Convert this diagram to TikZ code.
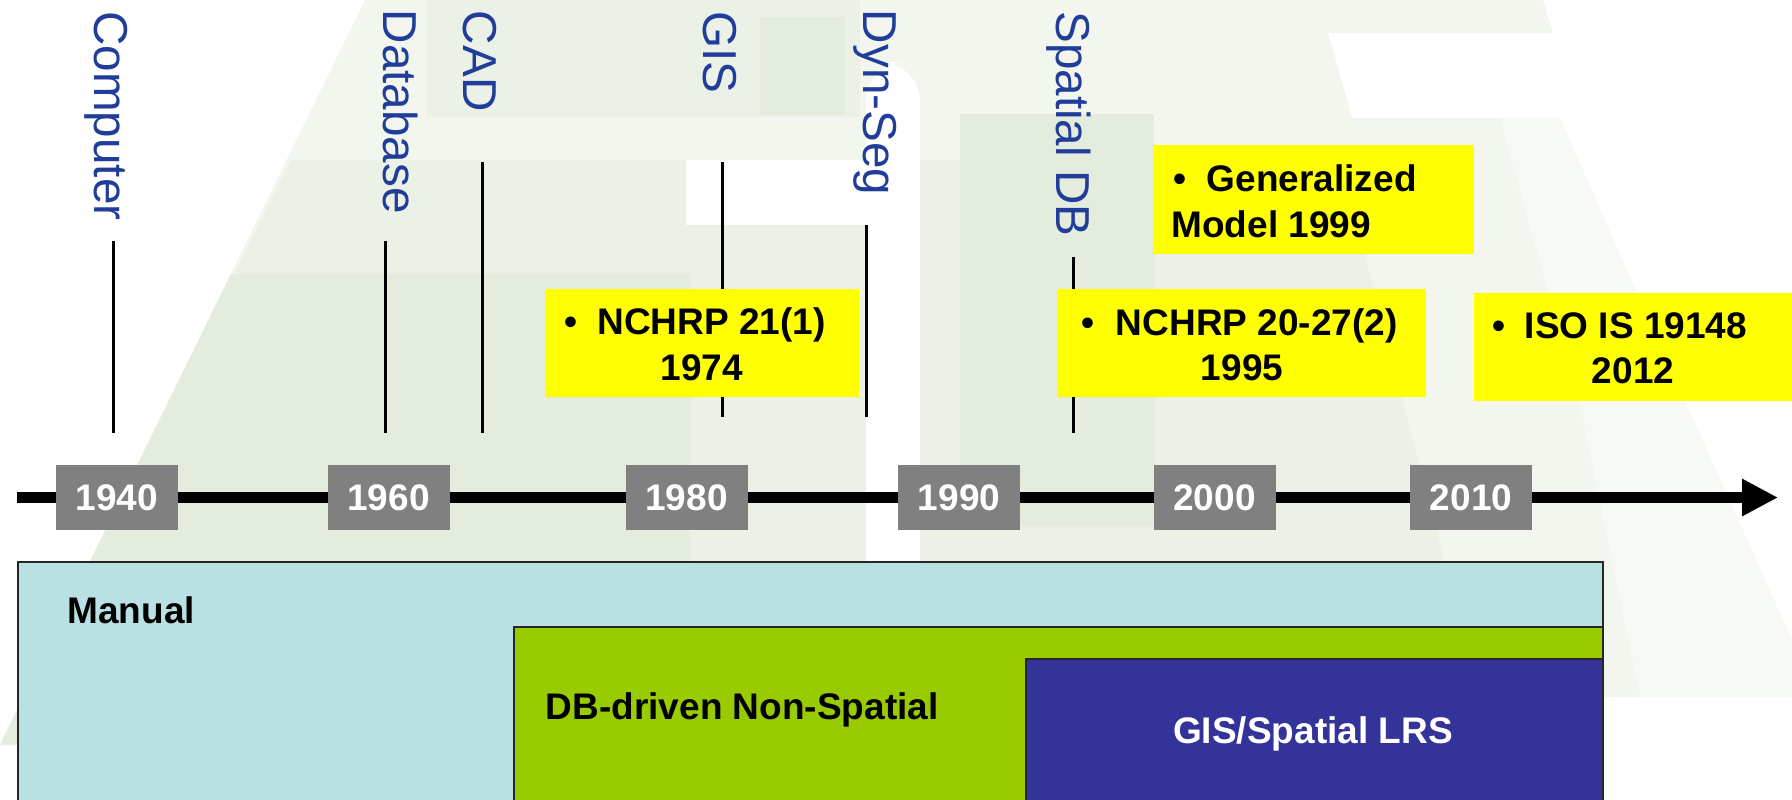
\documentclass[tikz,border=0pt]{standalone}
\usepackage{fontspec}
\setmainfont{Liberation Sans}
\usetikzlibrary{arrows.meta}
\definecolor{lblblue}{RGB}{31,61,153}
\definecolor{yrgray}{RGB}{128,128,128}
\definecolor{manualc}{RGB}{185,224,226}
\definecolor{dbgreen}{RGB}{153,204,0}
\definecolor{gisblue}{RGB}{51,51,153}
\definecolor{ylw}{RGB}{255,255,0}
\definecolor{bgF}{RGB}{247,249,245}
\definecolor{bgA}{RGB}{242,246,239}
\definecolor{bgB}{RGB}{236,241,232}
\definecolor{bgC}{RGB}{228,236,222}
\begin{document}
\begin{tikzpicture}[x=0.5pt,y=-0.5pt,
  yr/.style={fill=yrgray,text=white,font=\bfseries\fontsize{18.5pt}{22pt}\selectfont,minimum width=61pt,minimum height=32.5pt,inner sep=0pt},
  evlbl/.style={rotate=-90,anchor=base west,inner sep=0pt,text=lblblue,font=\fontsize{23.8pt}{28pt}\selectfont},
  evline/.style={line width=1.5pt,black},
  ybox/.style={fill=ylw,anchor=north west,inner sep=0pt,draw=none},
  btxt/.style={font=\bfseries\fontsize{18.5pt}{22pt}\selectfont,inner sep=0pt},
  era/.style={draw=black!85,line width=1pt,anchor=north west,inner sep=0pt},
]
\useasboundingbox (0,0) rectangle (1792,799);
\clip (0,0) rectangle (1792,799);
% background
\fill[white] (0,0) rectangle (1792,799);
\fill[bgF] (1480,118) -- (1560,118) -- (1640,300) -- (1792,640) -- (1792,697) -- (1600,697) -- cycle;
\fill[bgA] (365,0) -- (1543,0) -- (1553,33) -- (1328,33) -- (1352,118) -- (1500,118) -- (1583,420) -- (1640,697) -- (17,697) -- (17,745) -- (0,745) -- cycle;
\fill[bgB] (291,160) -- (1340,160) -- (1480,697) -- (17,697) -- (17,745) -- (0,745) -- cycle;
\fill[bgB] (427,0) -- (860,0) -- (860,117) -- (427,117) -- cycle;
\fill[bgC] (760,17) -- (845,17) -- (845,115) -- (760,115) -- cycle;
\fill[bgC] (231,274) -- (690,274) -- (690,697) -- (0,745) -- cycle;
\fill[bgC] (960,114) rectangle (1154,526);
\fill[white] (686,160) rectangle (905,225);
\fill[white,rounded corners=20pt] (866,62) rectangle (920,620);
% event lines
\coordinate (ln1a) at (113,241); \coordinate (ln1b) at (113,433);
\coordinate (ln2a) at (385,241); \coordinate (ln2b) at (385,433);
\coordinate (ln3a) at (482,162); \coordinate (ln3b) at (482,433);
\coordinate (ln4a) at (722,162); \coordinate (ln4b) at (722,417);
\coordinate (ln5a) at (866,225); \coordinate (ln5b) at (866,417);
\coordinate (ln6a) at (1073,257); \coordinate (ln6b) at (1073,433);
\draw[evline] (ln1a) -- (ln1b);
\draw[evline] (ln2a) -- (ln2b);
\draw[evline] (ln3a) -- (ln3b);
\draw[evline] (ln4a) -- (ln4b);
\draw[evline] (ln5a) -- (ln5b);
\draw[evline] (ln6a) -- (ln6b);
% event labels
\node[evlbl] (lcomp) at (94,11) {Computer};
\node[evlbl] (ldb) at (383,9.5) {Database};
\node[evlbl] (lcad) at (463,10.5) {CAD};
\node[evlbl] (lgis) at (703.5,11) {GIS};
\node[evlbl] (ldyn) at (863,9.5) {Dyn-Seg};
\node[evlbl] (lsdb) at (1056,11) {Spatial DB};
% yellow boxes
\node[ybox,minimum width=157pt,minimum height=54pt] (y1) at (545,289) {};
\node[btxt,anchor=base] (y1b) at (571,334) {\textbullet};
\node[btxt,anchor=base west] (y1t) at (597,334) {NCHRP 21(1)};
\node[btxt,anchor=base] (y1y) at (702,380) {1974};
\node[ybox,minimum width=184.5pt,minimum height=54pt] (y2) at (1057,289) {};
\node[btxt,anchor=base] (y2b) at (1088,335) {\textbullet};
\node[btxt,anchor=base west] (y2t) at (1115.5,335) {NCHRP 20-27(2)};
\node[btxt,anchor=base] (y2y) at (1242,380) {1995};
\node[ybox,minimum width=160.5pt,minimum height=54.5pt] (y3) at (1153,145) {};
\node[btxt,anchor=base] (y3b) at (1180,191) {\textbullet};
\node[btxt,anchor=base west] (y3t) at (1206.5,191) {Generalized};
\node[btxt,anchor=base west] (y3y) at (1171,237) {Model 1999};
\node[ybox,minimum width=163pt,minimum height=54pt] (y4) at (1474,293) {};
\node[btxt,anchor=base] (y4b) at (1499,338) {\textbullet};
\node[btxt,anchor=base west] (y4t) at (1524.5,338) {ISO IS 19148};
\node[btxt,anchor=base] (y4y) at (1633,383) {2012};
% timeline
\coordinate (tl0) at (17,497.5);
\coordinate (tl1) at (1778,497.5);
\draw[line width=5.5pt,-{Triangle[length=18pt,width=17.5pt]}] (tl0) -- (tl1);
\node[yr] (t1940) at (117,497.5) {1940};
\node[yr] (t1960) at (388.5,497.5) {1960};
\node[yr] (t1980) at (686.5,497.5) {1980};
\node[yr] (t1990) at (959,497.5) {1990};
\node[yr] (t2000) at (1214.5,497.5) {2000};
\node[yr] (t2010) at (1471,497.5) {2010};
% eras
\node[era,fill=manualc,minimum width=792.5pt,minimum height=130pt] (eman) at (17,561) {};
\node[era,fill=dbgreen,minimum width=544.5pt,minimum height=97pt] (edb) at (513,626) {};
\node[era,fill=gisblue,minimum width=288.5pt,minimum height=81pt] (egis) at (1025,658) {};
\node[btxt,anchor=base west] (tman) at (67,623) {Manual};
\node[btxt,anchor=base west] (tdb) at (545.5,719) {DB-driven Non-Spatial};
\node[btxt,anchor=base,text=white] (tgis) at (1313,743) {GIS/Spatial LRS};
\end{tikzpicture}
\end{document}
